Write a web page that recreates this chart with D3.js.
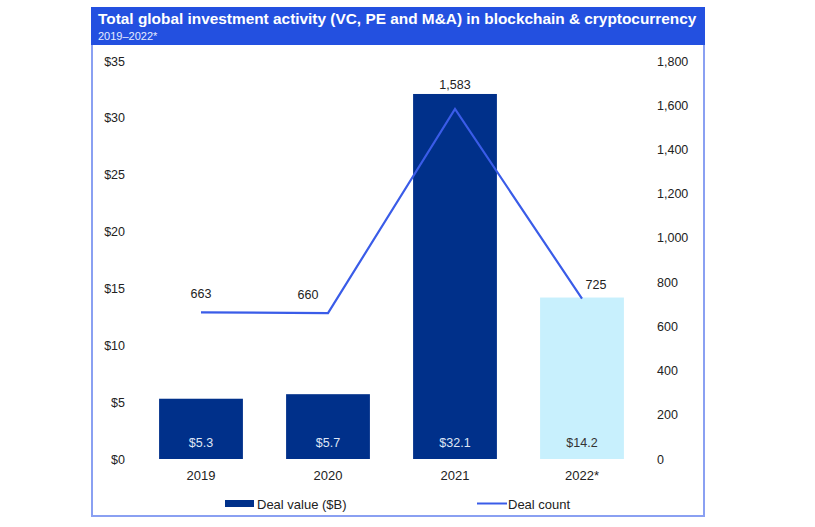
<!DOCTYPE html>
<html><head><meta charset="utf-8">
<script src="https://cdn.jsdelivr.net/npm/d3@7"></script>
<style>body{margin:0;background:#fff}svg{display:block;font-family:"Liberation Sans",Arial,sans-serif}</style>
</head><body>
<svg id="c" width="815" height="527"></svg>
<script>
const years = ["2019", "2020", "2021", "2022*"];
const dealValue = [5.3, 5.7, 32.1, 14.2];
const dealCount = [663, 660, 1583, 725];
const leftTicks = [0, 5, 10, 15, 20, 25, 30, 35];
const rightTicks = [0, 200, 400, 600, 800, 1000, 1200, 1400, 1600, 1800];
const title = "Total global investment activity (VC, PE and M&A) in blockchain & cryptocurrency";
const subtitle = "2019–2022*";
const legendLabels = ["Deal value ($B)", "Deal count"];

const svg = d3.select("#c");
const navy = "#00308a", light = "#c8f0fd", lineC = "#3a5ce8", hdr = "#2350e0", frame = "#8aa0f2";

// frame
svg.append("rect").attr("x", 92).attr("y", 8).attr("width", 612).attr("height", 508)
  .attr("fill", "none").attr("stroke", frame).attr("stroke-width", 2);
svg.append("rect").attr("x", 91).attr("y", 7).attr("width", 614).attr("height", 38).attr("fill", hdr);
svg.append("text").attr("x", 98).attr("y", 24).attr("fill", "#fff").attr("font-size", 15.4)
  .attr("font-weight", "bold").text(title);
svg.append("text").attr("x", 98).attr("y", 40).attr("fill", "#e6ebff").attr("font-size", 11).text(subtitle);

const x = d3.scaleBand().domain(years).range([137.5, 645.5]).paddingInner(0.34).paddingOuter(0.17);
const yL = d3.scaleLinear().domain([0, 35]).range([459, 61]);
const yR = d3.scaleLinear().domain([0, 1800]).range([459, 61]);

// axes
const axL = d3.axisLeft(yL).tickValues(leftTicks).tickFormat(d => "$" + d).tickSize(0).tickPadding(0);
const gL = svg.append("g").attr("transform", "translate(125,0)").call(axL);
const axR = d3.axisRight(yR).tickValues(rightTicks).tickFormat(d3.format(",")).tickSize(0).tickPadding(0);
const gR = svg.append("g").attr("transform", "translate(657,0)").call(axR);
[gL, gR].forEach(g => {
  g.select(".domain").remove();
  g.selectAll("text").attr("font-size", 12.5).attr("fill", "#222").attr("font-family", "Liberation Sans, Arial, sans-serif");
});
const axX = d3.axisBottom(x).tickSize(0).tickPadding(0);
const gX = svg.append("g").attr("transform", "translate(0,471)").call(axX);
gX.select(".domain").remove();
gX.selectAll("text").attr("font-size", 13).attr("fill", "#222").attr("font-family", "Liberation Sans, Arial, sans-serif");

// bars
svg.selectAll("rect.bar").data(dealValue).join("rect").attr("class", "bar")
  .attr("x", (d, i) => x(years[i])).attr("width", x.bandwidth())
  .attr("y", d => yL(d)).attr("height", d => yL(0) - yL(d))
  .attr("fill", (d, i) => i === 3 ? light : navy);
svg.selectAll("text.bv").data(dealValue).join("text").attr("class", "bv")
  .attr("x", (d, i) => x(years[i]) + x.bandwidth() / 2).attr("y", 447)
  .attr("text-anchor", "middle").attr("font-size", 12.5)
  .attr("fill", (d, i) => i === 3 ? "#333" : "#dfe6f5").text(d => "$" + d.toFixed(1));

// line
const cx = i => x(years[i]) + x.bandwidth() / 2;
svg.append("path").datum(dealCount)
  .attr("d", d3.line().x((d, i) => cx(i)).y(d => yR(d)))
  .attr("fill", "none").attr("stroke", lineC).attr("stroke-width", 2.2);
const last = dealCount.length - 1;
const dx = i => {
  if (i === last) return 14;                       // falling into last point: nudge right
  if (i > 0 && dealCount[i + 1] > dealCount[i] * 1.5) return -20; // steep rise next: nudge left
  return 0;
};
svg.selectAll("text.lc").data(dealCount).join("text").attr("class", "lc")
  .attr("x", (d, i) => cx(i) + dx(i))
  .attr("y", (d, i) => Math.min(yR(d) - 14, yL(dealValue[i]) - 5) + (i === last ? 4 : 0))
  .attr("text-anchor", "middle").attr("font-size", 12.5).attr("fill", "#222")
  .text(d => d3.format(",")(d));

// legend
svg.append("rect").attr("x", 225).attr("y", 500).attr("width", 29).attr("height", 7).attr("fill", navy);
svg.append("text").attr("x", 257).attr("y", 509).attr("font-size", 13).attr("fill", "#222").text(legendLabels[0]);
svg.append("line").attr("x1", 477).attr("x2", 507).attr("y1", 503.5).attr("y2", 503.5).attr("stroke", lineC).attr("stroke-width", 2);
svg.append("text").attr("x", 508).attr("y", 509).attr("font-size", 13).attr("fill", "#222").text(legendLabels[1]);
</script>
</body></html>
